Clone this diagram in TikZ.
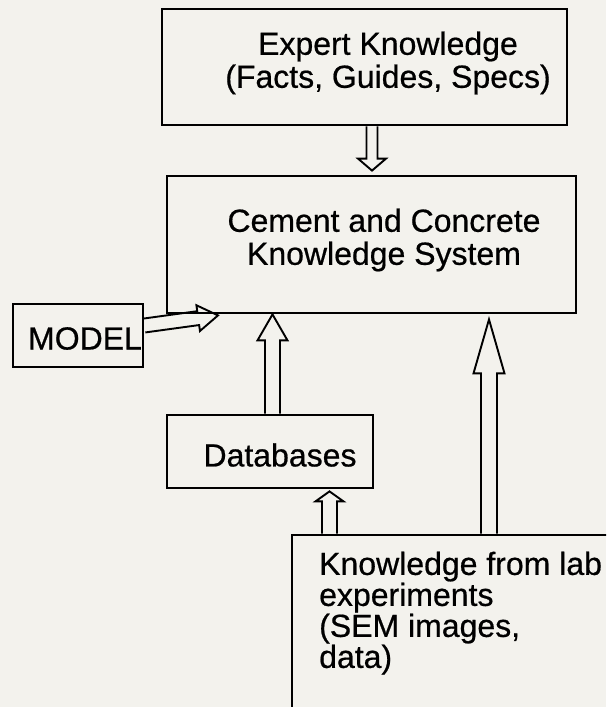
\documentclass[tikz,border=0pt]{standalone}
\usepackage{fontspec}
\setmainfont[FakeBold=0.6]{Liberation Sans}
\usepackage{xcolor}
\usetikzlibrary{calc}
\definecolor{paper}{RGB}{243,242,237}
\tikzset{
	box/.style={draw, line width=2.8pt, rectangle, inner sep=0pt},
	boxtext/.style={font=\fontsize{32}{33}\selectfont, align=center, inner sep=0pt},
	hollow/.style={draw, line width=1.9pt, line join=miter}
}
\newcommand{\hollowarrow}[5]{%
	\coordinate (hb) at ($(#2)!#5!(#1)$);
	\draw[hollow] ($(#1)!#3!90:(#2)$) -- ($(hb)!#3!90:(#2)$) -- ($(hb)!#4!90:(#2)$) -- (#2)
		-- ($(hb)!#4!-90:(#2)$) -- ($(hb)!#3!-90:(#2)$) -- ($(#1)!#3!-90:(#2)$);
}

\begin{document}
\begin{tikzpicture}[x=1pt, y=-1pt]
	\useasboundingbox (0,0) rectangle (606,707);
	\fill[paper] (0,0) rectangle (606,707);
	\clip (0,0) rectangle (606,707);
	\node[box, minimum width=405pt, minimum height=116pt] (expert) at (364.5,67) {};
	\node[boxtext] (expertText) at (388,63) {Expert Knowledge\\(Facts, Guides, Specs)};
	\node[box, minimum width=409pt, minimum height=137pt] (system) at (371.5,244.5) {};
	\node[boxtext] (systemText) at (384,240) {Cement and Concrete\\Knowledge System};
	\node[box, minimum width=130pt, minimum height=63pt] (model) at (78,335.5) {};
	\node[boxtext] (modelText) at (85,338.5) {MODEL};
	\node[box, minimum width=206pt, minimum height=73pt] (db) at (270,451.5) {};
	\node[boxtext] (dbText) at (280,455) {Databases};
	\node[box, minimum width=348pt, minimum height=225pt] (lab) at (466,647.5) {};
	\node[boxtext, align=left, anchor=north west, font=\fontsize{32}{31}\selectfont] (labText) at (319,551.5) {Knowledge from lab\\experiments\\(SEM images,\\data)};
	\hollowarrow{[xshift=7.5pt]expert.south}{[xshift=0.5pt,yshift=4pt]system.north}{5.5pt}{14pt}{12pt}
	\hollowarrow{[xshift=2.5pt]db.north}{[xshift=-99pt]system.south}{7.5pt}{15pt}{26pt}
	\hollowarrow{[xshift=23pt]lab.north}{[xshift=117.5pt,yshift=-5pt]system.south}{8pt}{15.5pt}{54pt}
	\hollowarrow{[xshift=-136.5pt]lab.north}{[xshift=59.5pt,yshift=-2pt]db.south}{7.5pt}{14pt}{10pt}
	\hollowarrow{[yshift=10pt]model.east}{[xshift=-153.5pt,yshift=-1pt]system.south}{7pt}{13pt}{20pt}
\end{tikzpicture}
\end{document}
